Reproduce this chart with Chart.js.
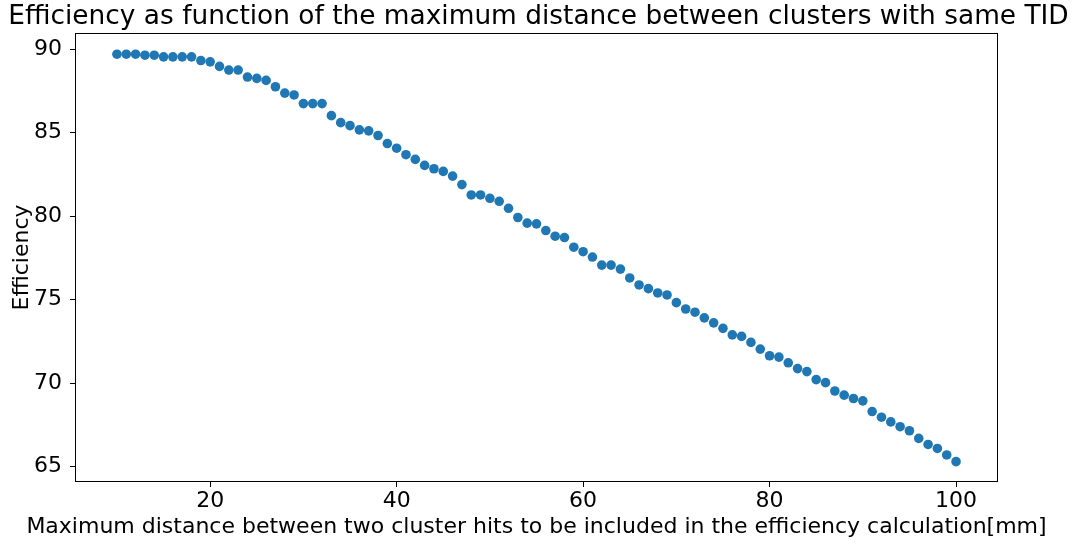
<!DOCTYPE html>
<html>
<head>
<meta charset="utf-8">
<script src="https://cdn.jsdelivr.net/npm/chart.js@4/dist/chart.umd.min.js"></script>
<style>
  html, body { margin: 0; padding: 0; background: #fff; }
  canvas { display: block; }
</style>
</head>
<body>
<canvas id="c" width="1077" height="547"></canvas>
<script>
// Maximum allowed distance between two cluster hits [mm]
const distances = [];
for (let d = 10; d <= 100; d++) distances.push(d);

// Efficiency [%] for each distance
const efficiency = [
  89.70, 89.70, 89.70, 89.64, 89.64, 89.54, 89.54, 89.54, 89.54, 89.32,
  89.24, 88.97, 88.75, 88.75, 88.33, 88.25, 88.13, 87.75, 87.37, 87.26,
  86.74, 86.74, 86.74, 86.02, 85.60, 85.42, 85.17, 85.11, 84.83, 84.35,
  84.07, 83.68, 83.40, 83.04, 82.84, 82.68, 82.40, 81.89, 81.27, 81.27,
  81.07, 80.89, 80.47, 79.92, 79.58, 79.54, 79.14, 78.80, 78.72, 78.14,
  77.87, 77.55, 77.07, 77.07, 76.83, 76.30, 75.88, 75.66, 75.40, 75.28,
  74.82, 74.44, 74.25, 73.91, 73.61, 73.28, 72.89, 72.80, 72.44, 72.04,
  71.64, 71.56, 71.22, 70.87, 70.69, 70.21, 70.03, 69.53, 69.28, 69.08,
  68.94, 68.30, 67.96, 67.68, 67.39, 67.15, 66.69, 66.33, 66.09, 65.70,
  65.30
];

const xTicks = [20, 40, 60, 80, 100];
const yTicks = [65, 70, 75, 80, 85, 90];

const xLabel = 'Maximum distance between two cluster hits to be included in the efficiency calculation[mm]';

const points = distances.map((d, i) => ({ x: d, y: efficiency[i] }));

Chart.defaults.font.family = '"DejaVu Sans", sans-serif';
Chart.defaults.color = '#000';

// Black frame around the plotting area, plus the x-axis label
// (the label is wider than the plot, so it is drawn without a width limit)
const frame = {
  id: 'frame',
  afterDraw(chart) {
    const { ctx, chartArea: a } = chart;
    ctx.save();
    ctx.strokeStyle = '#000';
    ctx.lineWidth = 1;
    ctx.strokeRect(Math.round(a.left) + 0.5, Math.round(a.top) + 0.5,
                   Math.round(a.right - a.left) - 1, Math.round(a.bottom - a.top) - 1);
    ctx.fillStyle = '#000';
    ctx.font = '22px "DejaVu Sans", sans-serif';
    ctx.textAlign = 'center';
    ctx.textBaseline = 'middle';
    ctx.fillText(xLabel, (a.left + a.right) / 2, a.bottom + 45);
    ctx.restore();
  }
};

new Chart(document.getElementById('c'), {
  type: 'scatter',
  data: {
    datasets: [{
      data: points,
      backgroundColor: '#1f77b4',
      borderWidth: 0,
      pointRadius: 4.8,
      pointHoverRadius: 4.8
    }]
  },
  options: {
    responsive: false,
    animation: false,
    events: [],
    layout: { padding: 0 },
    plugins: {
      legend: { display: false },
      tooltip: { enabled: false },
      title: {
        display: true,
        text: 'Efficiency as function of the maximum distance between clusters with same TID',
        font: { size: 26.4, weight: 'normal', lineHeight: 1.2 },
        color: '#000',
        padding: { top: 1, bottom: 0.3 }
      }
    },
    scales: {
      x: {
        type: 'linear',
        min: 5.5,
        max: 104.5,
        afterBuildTicks(s) { s.ticks = xTicks.map(v => ({ value: v })); },
        afterFit(s) { s.height = 65; },
        ticks: { font: { size: 22 }, padding: 0.8, maxRotation: 0 },
        grid: { drawOnChartArea: false, drawTicks: true, tickLength: 5, color: '#000' },
        border: { display: false },
        title: { display: false }
      },
      y: {
        type: 'linear',
        min: 64.08,
        max: 90.97,
        afterBuildTicks(s) { s.ticks = yTicks.map(v => ({ value: v })); },
        afterFit(s) { s.width = 75; },
        ticks: { font: { size: 22 }, padding: 8 },
        grid: { drawOnChartArea: false, drawTicks: true, tickLength: 5, color: '#000' },
        border: { display: false },
        title: {
          display: true,
          text: 'Efficiency',
          font: { size: 22 },
          padding: { top: 9, bottom: 0 }
        }
      },
      yRight: {
        type: 'linear',
        position: 'right',
        display: true,
        ticks: { display: false },
        grid: { display: false },
        border: { display: false },
        afterFit(s) { s.width = 79; }
      }
    }
  },
  plugins: [frame]
});
</script>
</body>
</html>
